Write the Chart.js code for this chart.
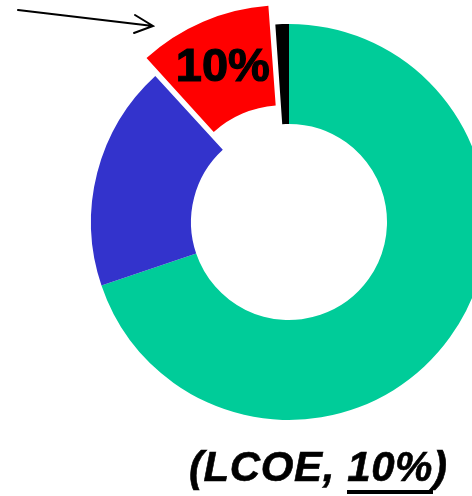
<!DOCTYPE html>
<html>
<head>
<meta charset="utf-8">
<script src="https://cdn.jsdelivr.net/npm/chart.js@4"></script>
<style>
    html, body { margin: 0; padding: 0; background: #fff; }
    body { width: 472px; height: 496px; overflow: hidden; position: relative; }
    #wrap { position: absolute; left: 0; top: 0; width: 578px; height: 444px; }
    #titulo {
        position: absolute; left: 189px; top: 446px;
        font-family: "Liberation Sans", Arial, sans-serif;
        font-weight: bold; font-style: italic; font-size: 42px; line-height: 41px;
        letter-spacing: 0.6px;
        color: #000; white-space: nowrap;
        -webkit-text-stroke: 0.6px #000;
    }
    #titulo span { border-bottom: 4px solid #000; }
</style>
</head>
<body>
<div id="wrap"><canvas id="myChart" width="578" height="444"></canvas></div>
<div id="titulo">(LCOE, <span>10%</span>)</div>
<script>
const ctx = document.getElementById('myChart').getContext('2d');

// clockwise desde arriba
const categorias = ['Verde', 'Azul', 'Rojo', 'Negro']
const valores = [69.8, 18.4, 10.7, 1.1]
const colores = ['#00cc99', '#3333cc', '#ff0000', '#000000']
const desplazamiento = [0, 0, 58, 0]
const etiquetaRojo = '10%'

// etiqueta dentro del sector rojo + flecha
const extras = {
    id: 'extras',
    afterDraw(chart) {
        const c = chart.ctx
        const arc = chart.getDatasetMeta(0).data[2]
        const mid = (arc.startAngle + arc.endAngle) / 2
        const circ = arc.endAngle - arc.startAngle
        const off = desplazamiento[2] / 4
        const d = off * (1 + (1 - Math.sin(Math.min(Math.PI, circ))))
        const r = (arc.innerRadius + arc.outerRadius) / 2 + d
        c.save()
        c.fillStyle = '#000'
        c.strokeStyle = '#000'
        c.lineWidth = 1.2
        c.font = 'bold 47px "Liberation Sans", Arial, sans-serif'
        c.textAlign = 'center'
        c.textBaseline = 'middle'
        const tx = arc.x + Math.cos(mid) * r
        const ty = arc.y + Math.sin(mid) * r
        c.fillText(etiquetaRojo, tx, ty)
        c.strokeText(etiquetaRojo, tx, ty)

        // flecha
        c.lineWidth = 2
        c.lineCap = 'round'
        c.beginPath()
        c.moveTo(18, 10)
        c.lineTo(153, 26)
        c.moveTo(135, 15)
        c.lineTo(153, 26)
        c.lineTo(134, 33)
        c.stroke()
        c.restore()
    }
}

new Chart(ctx, {
    type: 'doughnut',
    data: {
        labels: categorias,
        datasets: [{
            data: valores,
            backgroundColor: colores,
            borderWidth: 0,
            offset: desplazamiento
        }]
    },
    options: {
        responsive: false,
        animation: false,
        radius: 198,
        cutout: '49.5%',
        layout: { padding: 0 },
        plugins: {
            legend: { display: false },
            tooltip: { enabled: false }
        },
        events: []
    },
    plugins: [extras]
});
</script>
</body>
</html>
